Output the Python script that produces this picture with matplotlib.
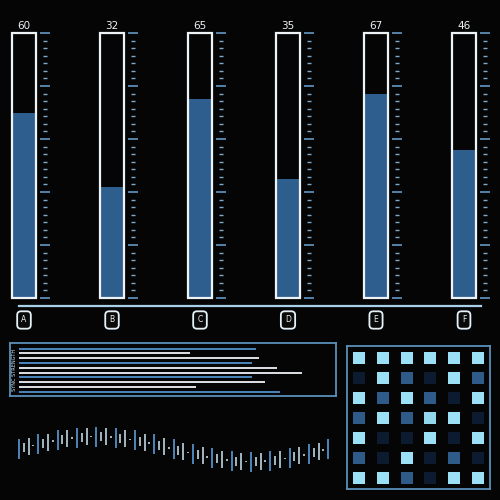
import numpy as np
import matplotlib
matplotlib.use('Agg')
import matplotlib.pyplot as plt
from matplotlib.colors import LinearSegmentedColormap
from matplotlib.lines import Line2D

# gauge values
gauge_labels = ['A', 'B', 'C', 'D', 'E', 'F']
gauge_values = [60, 32, 65, 35, 67, 46]

# horizontal strength bars (percent)
strength_values = [76, 55, 77, 75, 83, 91, 75, 79, 57, 84]
strength_blue = [True, False, False, True, False, False, True, False, False, True]

# grid of cells, 7 rows x 6 cols (0 = dark, 1 = bright)
grid_values = [
    [0.95, 0.95, 0.95, 0.95, 0.95, 0.95],
    [0.05, 0.95, 0.50, 0.05, 0.95, 0.50],
    [0.95, 0.50, 0.95, 0.50, 0.05, 0.95],
    [0.50, 0.95, 0.50, 0.92, 0.95, 0.05],
    [0.95, 0.05, 0.05, 0.95, 0.05, 0.95],
    [0.50, 0.05, 0.95, 0.05, 0.50, 0.05],
    [0.95, 0.95, 0.50, 0.05, 0.95, 0.95],
]

# wave of ticks: centre offset (px, up positive) and length (px)
wave_center = [0, 1.2, 2.4, 3.6, 4.8, 5.9, 6.9, 7.9, 8.8, 9.7, 10.4, 11.0, 11.5, 12.0, 12.3, 12.4,
               12.5, 12.4, 12.3, 12.0, 11.5, 11.0, 10.4, 9.7, 8.8, 7.9, 6.9, 5.9, 4.8, 3.6, 2.4, 1.2,
               0, -1.2, -2.4, -3.6, -4.8, -5.9, -6.9, -7.9, -8.8, -9.7, -10.4, -11.0, -11.5, -12.0, -12.3, -12.4,
               -12.5, -12.4, -12.3, -12.0, -11.5, -11.0, -10.4, -9.7, -8.8, -7.9, -6.9, -5.9, -4.8, -3.6, -2.4, -1.2,
               0]
wave_len = [20, 9, 17, 1.5] * 16 + [20]

bg = '#050505'
white = '#eef3f7'
steel = '#2e5e8e'
tickblue = '#5b8db5'
light = '#cfe6f2'

fig = plt.figure(figsize=(5, 5), dpi=100, facecolor=bg)

# ---- gauges ----
ax = fig.add_axes([0, 1 - 298 / 500, 1, 265 / 500])
ax.set_facecolor('none')
ax.axis('off')
ax.set_xlim((0 - 24) / 88, (500 - 24) / 88)
ax.set_ylim(-10, 90)
xs = np.arange(len(gauge_values))
vals = np.array(gauge_values)
ax.bar(xs, vals + 10, bottom=-10, width=0.24, color=steel, zorder=2)
ax.bar(xs, 100, bottom=-10, width=0.28, fill=False, edgecolor=white, linewidth=1.6, zorder=3, clip_on=False)
ticks_y = np.linspace(-10, 90, 36)
for x in xs:
    for k, ty in enumerate(ticks_y):
        if k % 7 == 0:
            ax.plot([x + 0.182, x + 0.295], [ty, ty], color=tickblue, lw=1.3, clip_on=False, solid_capstyle='butt')
        else:
            ax.plot([x + 0.216, x + 0.261], [ty, ty], color='#7fa9c8', lw=1.0, clip_on=False, solid_capstyle='butt')
    ax.annotate(str(gauge_values[x]), (x, 90), xytext=(0, 7), textcoords='offset pixels',
                ha='center', va='center', color=white, fontsize=7.5)
    ax.annotate(gauge_labels[x], (x, -10), xytext=(0, -22), textcoords='offset pixels',
                ha='center', va='center', color=white, fontsize=5.5,
                bbox=dict(boxstyle='round,pad=0.55,rounding_size=0.5', fc='#0a0a0a', ec='#e4f1f9', lw=1.3))

fig.add_artist(Line2D([19 / 500, 481 / 500], [1 - 306 / 500, 1 - 306 / 500],
                      color='#a8d0e8', lw=1.6, transform=fig.transFigure))

# ---- strength bars ----
ax2 = fig.add_axes([10 / 500, 1 - 396 / 500, 326 / 500, 53 / 500])
ax2.set_facecolor('none')
ax2.set_xlim(-3, 101.9)
ax2.set_ylim(9.9, -1.19)
ax2.set_xticks([])
ax2.set_yticks([])
for s in ax2.spines.values():
    s.set_color('#5a8fb8')
    s.set_linewidth(1.3)
for r, (v, b) in enumerate(zip(strength_values, strength_blue)):
    ax2.hlines(r, 0, v, color='#4f8fc8' if b else white, lw=1.3)
ax2.text(-1.5, 4.4, 'SYNC STRENGTH', rotation=90, ha='center', va='center',
         color=light, fontsize=3.6)

# ---- grid ----
ax3 = fig.add_axes([347 / 500, 1 - 489 / 500, 143 / 500, 143 / 500])
ax3.set_facecolor('none')
ax3.set_xlim(-0.52, 5.52)
ax3.set_ylim(6.535, -0.615)
ax3.set_xticks([])
ax3.set_yticks([])
for s in ax3.spines.values():
    s.set_color('#5a8fb8')
    s.set_linewidth(1.3)
cmap = LinearSegmentedColormap.from_list('cells', ['#0a1428', '#2e5a88', '#a6eeff'])
g = np.array(grid_values)
rr, cc = np.indices(g.shape)
ax3.scatter(cc.ravel(), rr.ravel(), c=g.ravel(), cmap=cmap, vmin=0, vmax=1,
            marker='s', s=75, linewidths=0)

# ---- wave ----
ax4 = fig.add_axes([10 / 500, 1 - 480 / 500, 326 / 500, 60 / 500])
ax4.set_facecolor('none')
ax4.axis('off')
ax4.set_xlim(-1.86, 65.6)
ax4.set_ylim(-31, 29)
wc = np.array(wave_center)
wl = np.array(wave_len)
wx = np.arange(len(wc))
for i in wx:
    blue = i % 4 == 0
    ax4.vlines(i, wc[i] - wl[i] / 2, wc[i] + wl[i] / 2,
               color='#4f86b8' if blue else light, lw=1.4 if blue else 1.1)

fig.savefig('out.png', dpi=100, facecolor=bg)
